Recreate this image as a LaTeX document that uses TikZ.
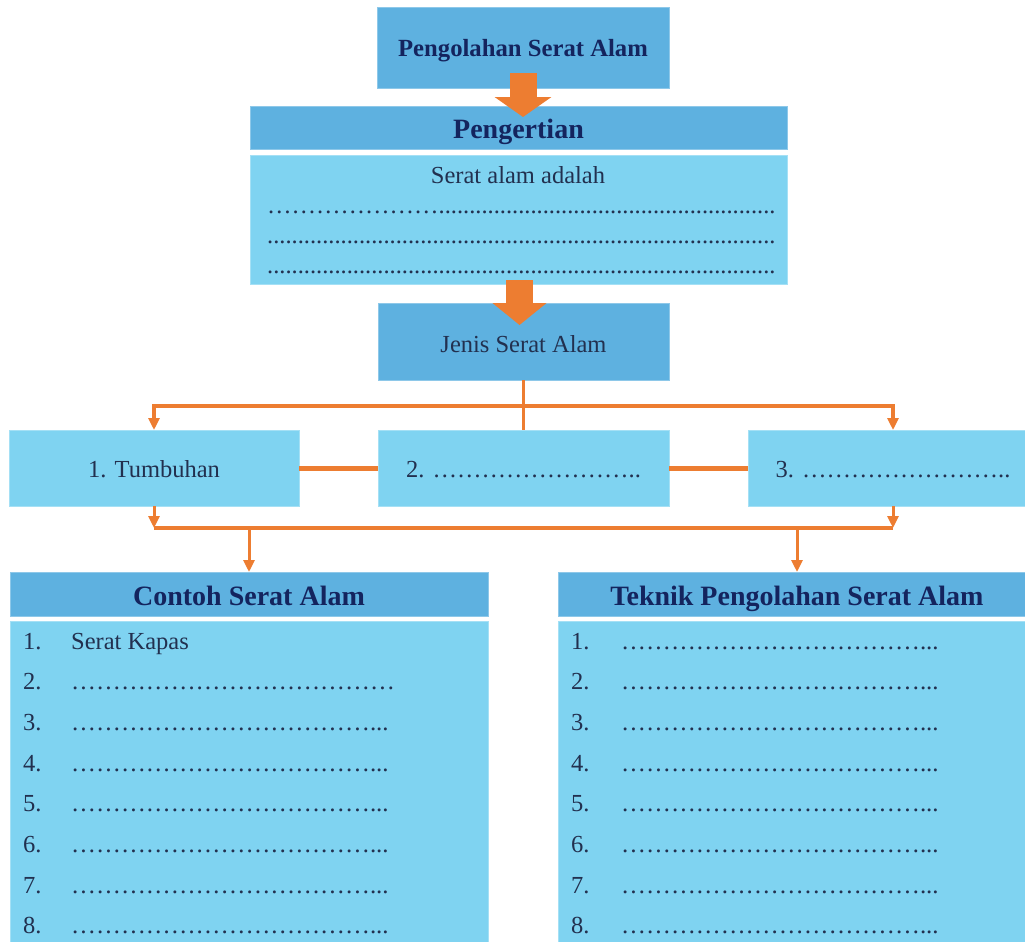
\documentclass[tikz,border=0pt]{standalone}
\usepackage{fontspec}
\setmainfont{Liberation Serif}
\usetikzlibrary{arrows.meta,calc}
\definecolor{hdrblue}{HTML}{5EB1E0}
\definecolor{bodyblue}{HTML}{7FD3F1}
\definecolor{linkorange}{HTML}{ED7D31}
\definecolor{inkbold}{HTML}{14245E}
\definecolor{inkreg}{HTML}{22304F}
% repeat a character a given number of times
\newcommand\rpt[2]{\foreach \k in {1,...,#1}{#2}}
\begin{document}
\begin{tikzpicture}[x=1pt,y=-1pt,
  hdr/.style={rectangle,inner sep=0pt,outer sep=0pt,fill=hdrblue,draw=hdrblue!70!white,line width=0.8pt},
  bodybox/.style={rectangle,inner sep=0pt,outer sep=0pt,fill=bodyblue,draw=bodyblue!70!white,line width=0.8pt},
  bigbold/.style={font=\fontsize{28}{32}\selectfont\bfseries,text=inkbold},
  reg/.style={font=\fontsize{24.5}{29}\selectfont,text=inkreg},
  % baseline sits half of the given height below the box centre
  lift/.style={text height=#1,text depth=0pt},
  txt/.style={reg,inner sep=0pt,anchor=base west},
  dots/.style={txt,font=\fontsize{24.9}{29}\selectfont},
  bigarrowA/.style={draw=linkorange,line width=27pt,-{Triangle[length=20pt,width=56pt]}},
  bigarrowB/.style={draw=linkorange,line width=27pt,-{Triangle[length=22pt,width=53pt]}},
  tip/.style={-{Triangle[length=12pt,width=11pt]}},
  thinlink/.style={draw=linkorange,line width=3pt},
  buslink/.style={draw=linkorange,line width=4pt},
  boxlink/.style={draw=linkorange,line width=5pt}]
\useasboundingbox (0,0) rectangle (1025,942);

% title
\node[hdr,minimum width=292pt,minimum height=81pt,font=\fontsize{24.7}{28}\selectfont\bfseries,text=inkbold,lift=19pt]
  (top) at (523,47.5) {Pengolahan Serat Alam};

% definition block
\node[hdr,minimum width=537pt,minimum height=43pt,bigbold,lift=21pt] (penh) at (518.5,127.5) {Pengertian};
\node[bodybox,minimum width=537pt,minimum height=129pt] (penb) at (518.5,219.5) {};
\node[reg,inner sep=0pt,anchor=base] (pdef) at (518,183) {Serat alam adalah};
\node[txt] (pl1) at (267,213) {\rpt{7}{…}\rpt{55}{.}};
\node[txt] (pl2) at (267,243) {\rpt{83}{.}};
\node[txt] (pl3) at (267,273) {\rpt{83}{.}};

% kinds of fibre
\node[hdr,minimum width=291pt,minimum height=77pt,reg,lift=21pt] (jenis) at (523.5,341.5) {Jenis Serat Alam};
\node[bodybox,minimum width=290pt,minimum height=76pt,reg,lift=18pt] (b1) at (154,468) {1. Tumbuhan};
\node[bodybox,minimum width=291pt,minimum height=76pt,reg,lift=18pt] (b2) at (523.5,468) {2. \rpt{8}{…}..};
\node[bodybox,minimum width=290pt,minimum height=76pt,reg,lift=18pt] (b3) at (893,468) {3. \rpt{8}{…}..};

% examples and techniques
\node[hdr,minimum width=478pt,minimum height=44pt,bigbold,lift=23pt] (contoh) at (249,594) {Contoh Serat Alam};
\node[bodybox,minimum width=478pt,minimum height=340pt] (contohb) at (249,791) {};
\node[hdr,minimum width=478pt,minimum height=44pt,bigbold,lift=23pt] (teknik) at (797,594) {Teknik Pengolahan Serat Alam};
\node[bodybox,minimum width=478pt,minimum height=340pt] (teknikb) at (797,791) {};

\foreach \i in {1,...,8}{
  \pgfmathsetmacro\yb{649+40.7*(\i-1)}
  \node[txt] (cn\i) at (23,\yb) {\i.};
  \node[txt] (tn\i) at (571,\yb) {\i.};
  \node[dots] (td\i) at (621,\yb) {\rpt{12}{…}...};
}
\node[txt] (cd1) at (71,649) {Serat Kapas};
\node[dots] (cd2) at (71,689.7) {\rpt{13}{…}};
\foreach \i in {3,...,8}{
  \pgfmathsetmacro\yb{649+40.7*(\i-1)}
  \node[dots] (cd\i) at (71,\yb) {\rpt{12}{…}...};
}

% block arrows
\draw[bigarrowA] ($(top.south)+(0,-15)$) -- ($(top.south |- penh.north)+(0,11)$);
\draw[bigarrowB] ($(penb.south)+(1,-4)$) -- ($(penb.south |- jenis.north)+(1,22)$);

% branching connectors
\coordinate (hub) at ($(jenis.south)+(0,26)$);
\draw[thinlink] (jenis.south) -- (jenis.south |- b2.north);
\draw[buslink,{Triangle[length=12pt,width=11pt]}-{Triangle[length=12pt,width=11pt]}]
  (b1.north) |- (hub) -| (b3.north);
\draw[boxlink] (b1.east) -- (b2.west);
\draw[boxlink] (b2.east) -- (b3.west);

\coordinate (busL) at ($(b1.south)+(0,22)$);
\coordinate (busR) at ($(b3.south)+(0,22)$);
\draw[thinlink,tip] (b1.south) -- (busL);
\draw[thinlink,tip] (b3.south) -- (busR);
\draw[buslink] (busL) -- (busR);
\draw[thinlink,tip] (contoh.north |- busL) -- (contoh.north);
\draw[thinlink,tip] (teknik.north |- busL) -- (teknik.north);
\end{tikzpicture}
\end{document}
